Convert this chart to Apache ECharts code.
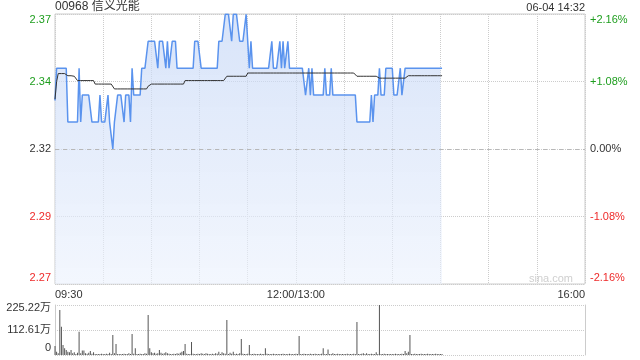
<!DOCTYPE html>
<html><head><meta charset="utf-8">
<script src="https://cdn.jsdelivr.net/npm/echarts@6/dist/echarts.min.js"></script>
<style>html,body{margin:0;padding:0;background:#fff}#c{width:640px;height:360px}</style>
</head><body><div id="c"></div>
<script>
const stockTitle = '00968 信义光能';
const stampText = '06-04 14:32';
const watermark = 'sina.com';
const prevClose = 2.32;

// minute-by-minute last price, index = minutes since 09:30 (lunch break removed)
const price = [
2.338,2.35,2.35,2.35,2.35,2.35,2.35,2.35,2.33,2.33,
2.33,2.33,2.33,2.33,2.33,2.35,2.33,2.34,2.34,2.34,
2.34,2.34,2.34,2.33,2.33,2.33,2.33,2.33,2.34,2.33,
2.33,2.33,2.33,2.34,2.33,2.33,2.32,2.33,2.33,2.34,
2.34,2.34,2.34,2.33,2.34,2.34,2.34,2.33,2.35,2.34,
2.34,2.34,2.34,2.34,2.35,2.35,2.35,2.35,2.36,2.36,
2.36,2.36,2.36,2.36,2.35,2.36,2.36,2.36,2.36,2.35,
2.36,2.35,2.35,2.36,2.36,2.36,2.35,2.35,2.35,2.35,
2.35,2.35,2.35,2.35,2.35,2.35,2.35,2.36,2.36,2.36,
2.36,2.35,2.35,2.35,2.35,2.35,2.35,2.35,2.35,2.35,
2.35,2.35,2.36,2.36,2.36,2.36,2.37,2.37,2.37,2.37,
2.36,2.37,2.37,2.37,2.37,2.36,2.36,2.36,2.36,2.37,
2.36,2.35,2.36,2.35,2.35,2.35,2.35,2.35,2.35,2.35,
2.35,2.35,2.35,2.35,2.35,2.36,2.35,2.35,2.35,2.35,
2.36,2.35,2.36,2.35,2.35,2.36,2.35,2.35,2.35,2.35,
2.35,2.35,2.35,2.35,2.35,2.35,2.34,2.34,2.35,2.34,
2.35,2.34,2.34,2.34,2.34,2.34,2.34,2.34,2.35,2.34,
2.34,2.34,2.35,2.34,2.34,2.34,2.34,2.34,2.34,2.34,
2.34,2.34,2.34,2.34,2.34,2.34,2.34,2.34,2.33,2.33,
2.33,2.33,2.33,2.33,2.33,2.33,2.33,2.34,2.33,2.34,
2.34,2.34,2.35,2.34,2.34,2.34,2.35,2.35,2.35,2.35,
2.35,2.34,2.34,2.34,2.34,2.35,2.34,2.34,2.35,2.35,
2.35,2.35,2.35,2.35,2.35,2.35,2.35,2.35,2.35,2.35,
2.35,2.35,2.35,2.35,2.35,2.35,2.35,2.35,2.35,2.35,
2.35,2.35
];

// average price line
const avgPrice = [
2.3385,2.345,2.348,2.348,2.348,2.348,2.348,2.3475,2.3472,2.3472,
2.3472,2.347,2.347,2.347,2.3454,2.3454,2.3454,2.3454,2.3454,2.3454,
2.3454,2.3454,2.3454,2.3454,2.3454,2.3441,2.3441,2.3441,2.3441,2.3441,
2.3441,2.3441,2.3441,2.3441,2.3441,2.3441,2.3441,2.3423,2.3423,2.3423,
2.3423,2.3423,2.3423,2.3423,2.3423,2.3423,2.3423,2.3423,2.3423,2.3423,
2.3423,2.3423,2.3423,2.3423,2.3423,2.3423,2.3423,2.3423,2.3433,2.3433,
2.3441,2.3441,2.3441,2.3441,2.3441,2.3441,2.3441,2.3441,2.3441,2.3441,
2.3441,2.3441,2.3441,2.3441,2.3441,2.3441,2.3441,2.3441,2.3441,2.3441,
2.3441,2.3454,2.3454,2.3454,2.3454,2.3454,2.3454,2.3454,2.3454,2.3454,
2.3454,2.3454,2.3454,2.3454,2.3454,2.3454,2.3454,2.3454,2.3454,2.3454,
2.3454,2.3454,2.3454,2.3454,2.3454,2.3454,2.3454,2.347,2.347,2.347,
2.347,2.347,2.347,2.347,2.347,2.347,2.347,2.347,2.347,2.347,
2.3482,2.3482,2.3482,2.3482,2.3482,2.3482,2.3482,2.3482,2.3482,2.3482,
2.3482,2.3482,2.3482,2.3482,2.3482,2.3482,2.3482,2.3482,2.3482,2.3482,
2.3482,2.3482,2.3482,2.3482,2.3482,2.3482,2.3482,2.3482,2.3482,2.3482,
2.3482,2.3482,2.3482,2.3482,2.3482,2.3482,2.3482,2.3482,2.3482,2.3482,
2.3482,2.3482,2.3482,2.3482,2.3482,2.3482,2.3482,2.3482,2.3482,2.3482,
2.3482,2.3482,2.3482,2.3482,2.3482,2.3482,2.3482,2.3482,2.3482,2.3482,
2.3482,2.3482,2.3482,2.3482,2.3482,2.3482,2.3482,2.3482,2.347,2.347,
2.347,2.347,2.347,2.347,2.347,2.347,2.347,2.347,2.347,2.347,
2.347,2.3463,2.3463,2.3463,2.3463,2.3463,2.3463,2.3463,2.3463,2.3463,
2.3463,2.3463,2.3463,2.3463,2.3463,2.3463,2.3463,2.3463,2.3463,2.3463,
2.3472,2.3472,2.3472,2.3472,2.3472,2.3472,2.3472,2.3472,2.3472,2.3472,
2.3472,2.3472,2.3472,2.3472,2.3472,2.3472,2.3472,2.3472,2.3472,2.3472,
2.3472,2.3472
];

// volume per minute, in 万 shares
const volume = [
40,15,8,203,127,45,30,22,15,12,
22,8,12,5,10,105,8,20,20,8,
6,10,18,6,12,5,4,5,4,6,
5,4,6,4,10,5,90,8,50,5,
4,5,4,6,4,5,8,5,95,6,
30,5,4,6,4,5,8,6,180,30,
12,8,10,6,8,22,10,6,8,12,
8,6,5,4,6,5,8,6,10,15,
18,50,6,5,4,58,6,5,4,6,
5,8,6,5,8,6,5,4,6,5,
8,6,15,5,12,8,6,158,5,10,
6,15,5,6,4,8,72,6,5,4,
6,45,5,4,6,5,4,5,6,4,
5,30,6,4,5,4,6,5,4,5,
4,5,6,4,5,4,6,5,4,5,
6,5,86,5,4,6,5,4,5,6,
4,5,6,4,5,4,6,30,5,4,
25,5,4,8,5,4,6,5,4,5,
4,5,6,4,5,4,6,5,149,5,
4,6,8,5,8,5,4,6,5,4,
12,5,225,5,4,6,5,4,5,4,
5,4,6,5,4,5,6,5,18,8,
15,90,5,4,6,5,4,5,6,4,
5,4,6,5,4,5,4,6,5,4,
5,4
];

const pctTicks = [-2.16, -1.08, 0, 1.08, 2.16];
const priceTickLabels = ['2.27', '2.29', '2.32', '2.34', '2.37'];
const pctTickLabels = ['-2.16%', '-1.08%', '0.00%', '+1.08%', '+2.16%'];
const volTicks = [0, 112.61, 225.22];
const volTickLabels = ['0', '112.61万', '225.22万'];
const timeTickMinutes = [0, 150, 330];
const timeTickLabels = ['09:30', '12:00/13:00', '16:00'];
const sessionMinutes = 330;

const FONT = '"Liberation Sans", Arial, "Noto Sans CJK SC", sans-serif';
const GREEN = '#1e9e1e', RED = '#ee2a2a', TXT = '#333';
const pctStep = pctTicks[3];
const labelCls = ['dnEnd', 'dn', 'zero', 'up', 'upEnd'];
const richSide = {
  upEnd: {color: GREEN, fontSize: 11, fontFamily: FONT, padding: [12, 0, 0, 0]},
  up: {color: GREEN, fontSize: 11, fontFamily: FONT},
  zero: {color: TXT, fontSize: 11, fontFamily: FONT},
  dn: {color: RED, fontSize: 11, fontFamily: FONT},
  dnEnd: {color: RED, fontSize: 11, fontFamily: FONT, padding: [0, 0, 12, 0]}
};
function idxOfPct(v) { return Math.round(v / pctStep) + 2; }

const chart = echarts.init(document.getElementById('c'), null, {renderer: 'canvas'});
const option = {
  animation: false,
  textStyle: {fontFamily: FONT},
  title: [
    {text: stockTitle, left: 55, top: 1, padding: 0,
     textStyle: {fontSize: 12, fontWeight: 'normal', color: TXT, fontFamily: FONT}},
    {text: stampText, right: 55, top: 2, padding: 0,
     textStyle: {fontSize: 11, fontWeight: 'normal', color: TXT, fontFamily: FONT}}
  ],
  graphic: [
    {type: 'text', right: 67, top: 273, silent: true,
     style: {text: watermark, fill: '#cfcfcf', font: '11px "Liberation Sans", Arial'}}
  ],
  grid: [
    {left: 55, top: 14, width: 530, height: 270, show: true, borderColor: '#ccc', borderWidth: 1, backgroundColor: 'transparent'},
    {left: 55, top: 305, width: 530, height: 50, show: false}
  ],
  xAxis: [
    {type: 'value', gridIndex: 0, min: 0, max: sessionMinutes, interval: 30,
     axisLine: {show: false}, axisTick: {show: false},
     splitLine: {show: true, lineStyle: {color: '#ccc', type: 'dotted', width: 1}},
     axisLabel: {show: true, fontSize: 11, color: TXT, margin: 5, fontFamily: FONT,
       alignMinLabel: 'left', alignMaxLabel: 'right', showMinLabel: true, showMaxLabel: true,
       formatter: function (v) { const i = timeTickMinutes.indexOf(Math.round(v)); return i >= 0 ? timeTickLabels[i] : ''; }}},
    {type: 'value', gridIndex: 1, min: 0, max: sessionMinutes, interval: 30,
     axisLine: {show: false}, axisTick: {show: false}, splitLine: {show: false}, axisLabel: {show: false}}
  ],
  yAxis: [
    {type: 'value', gridIndex: 0, show: false,
     min: prevClose * (1 + pctTicks[0] / 100), max: prevClose * (1 + pctTicks[4] / 100)},
    {type: 'value', gridIndex: 0, position: 'left', min: pctTicks[0], max: pctTicks[4], interval: pctStep,
     axisLine: {show: false}, axisTick: {show: false},
     splitLine: {show: true, lineStyle: {color: '#ccc', type: 'dotted', width: 1}},
     axisLabel: {margin: 4, rich: richSide,
       formatter: function (v) { const i = idxOfPct(v); return '{' + labelCls[i] + '|' + priceTickLabels[i] + '}'; }}},
    {type: 'value', gridIndex: 0, position: 'right', min: pctTicks[0], max: pctTicks[4], interval: pctStep,
     axisLine: {show: false}, axisTick: {show: false}, splitLine: {show: false},
     axisLabel: {margin: 5, rich: richSide,
       formatter: function (v) { const i = idxOfPct(v); return '{' + labelCls[i] + '|' + pctTickLabels[i] + '}'; }}},
    {type: 'value', gridIndex: 1, position: 'left', min: volTicks[0], max: volTicks[2], interval: volTicks[1],
     axisLine: {show: true, lineStyle: {color: '#ccc'}}, axisTick: {show: false},
     splitLine: {show: true, lineStyle: {color: '#ccc', type: 'dotted', width: 1}},
     axisLabel: {margin: 4, color: TXT, fontSize: 11,
       rich: {
         top: {color: TXT, fontSize: 11, fontFamily: FONT, padding: [6, 0, 0, 0]},
         mid: {color: TXT, fontSize: 11, fontFamily: FONT},
         bot: {color: TXT, fontSize: 11, fontFamily: FONT, padding: [0, 0, 14, 0]}
       },
       formatter: function (v) { const i = Math.round(v / volTicks[1]); return '{' + ['bot', 'mid', 'top'][i] + '|' + volTickLabels[i] + '}'; }}},
    {type: 'value', gridIndex: 1, position: 'right', min: volTicks[0], max: volTicks[2],
     axisLine: {show: true, lineStyle: {color: '#ccc'}}, axisTick: {show: false},
     splitLine: {show: false}, axisLabel: {show: false}}
  ],
  series: [
    {type: 'line', name: 'price', xAxisIndex: 0, yAxisIndex: 0,
     data: price.map(function (p, i) { return [i, p]; }),
     showSymbol: false, symbol: 'none', silent: true,
     lineStyle: {color: '#5a93ee', width: 1.5},
     areaStyle: {origin: 'start', color: new echarts.graphic.LinearGradient(0, 0, 0, 1, [
       {offset: 0, color: 'rgba(196,214,246,0.95)'},
       {offset: 1, color: 'rgba(236,242,253,0.9)'}
     ])},
     markLine: {symbol: 'none', silent: true, label: {show: false},
       lineStyle: {color: '#b8b8b8', type: [4, 4], width: 1},
       data: [{yAxis: prevClose}]},
     z: 3},
    {type: 'line', name: 'avg', xAxisIndex: 0, yAxisIndex: 0,
     data: avgPrice.map(function (p, i) { return [i, p]; }),
     showSymbol: false, symbol: 'none', silent: true,
     lineStyle: {color: '#333', width: 1}, z: 4},
    {type: 'bar', name: 'volume', xAxisIndex: 1, yAxisIndex: 3,
     data: volume.map(function (v, i) { return [i, v]; }),
     barWidth: 1, silent: true, itemStyle: {color: '#555'}}
  ]
};
chart.setOption(option);
</script>
</body></html>
